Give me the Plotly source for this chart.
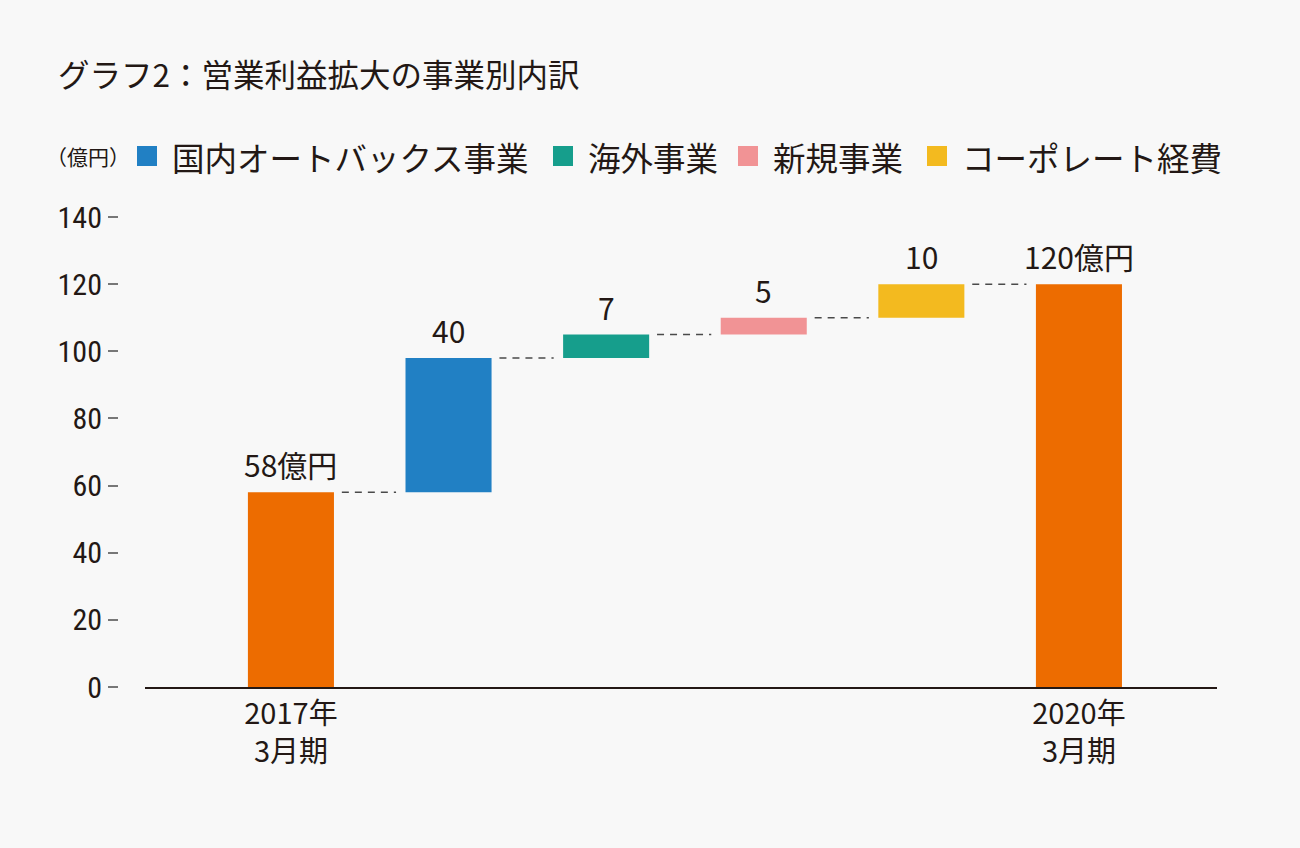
import plotly.graph_objects as go

# ---------------- data ----------------
title_text = "グラフ2：営業利益拡大の事業別内訳"
unit_label = "（億円）"
period_labels = ["2017年<br>3月期", "2020年<br>3月期"]
start_value = 58
end_value = 120
segment_names = ["国内オートバックス事業", "海外事業", "新規事業", "コーポレート経費"]
segment_values = [40, 7, 5, 10]
segment_colors = ["#2180C4", "#169E8C", "#F19395", "#F3BA1F"]
total_color = "#ED6C00"
y_tick_values = [0, 20, 40, 60, 80, 100, 120, 140]

# ---------------- styling ----------------
BG = "#F8F8F8"
INK = "#231815"
CJK = "Noto Sans CJK JP, Noto Sans, sans-serif"
NUM = "Liberation Sans Narrow, Roboto Condensed, DejaVu Sans Condensed, Roboto, sans-serif"
W, H = 1300, 848
BAR_W = 0.546

fig = go.Figure()

n_seg = len(segment_values)
total_positions = [0, n_seg + 1]

# totals
fig.add_trace(go.Bar(
    x=total_positions, y=[start_value, end_value], base=[0, 0],
    width=BAR_W, marker=dict(color=total_color, line=dict(width=0)),
    showlegend=False, hoverinfo="skip"))

# segments
tops = [start_value]
cum = start_value
for i, (name, v, c) in enumerate(zip(segment_names, segment_values, segment_colors)):
    fig.add_trace(go.Bar(
        x=[i + 1], y=[v], base=[cum], name=name, width=BAR_W,
        marker=dict(color=c, line=dict(width=0)),
        showlegend=False, hoverinfo="skip"))
    cum += v
    tops.append(cum)
tops.append(end_value)

labels = [f"{start_value}億円"] + [str(v) for v in segment_values] + [f"{end_value}億円"]

# value labels
for i, (t, lab) in enumerate(zip(tops, labels)):
    fig.add_annotation(x=i, y=t, xref="x", yref="y", text=lab, showarrow=False,
                       yanchor="bottom", xanchor="center", yshift=4,
                       font=dict(family=CJK, size=30, color=INK))

# dashed connectors
for i in range(len(tops) - 1):
    fig.add_shape(type="line", xref="x", yref="y",
                  x0=i + BAR_W / 2 + 0.05, x1=i + 1 - BAR_W / 2 - 0.06,
                  y0=tops[i], y1=tops[i],
                  line=dict(color="#4A4A4A", width=1.5, dash="7px,6px"))

# title
fig.add_annotation(x=56 / W, y=1 - 73 / H, xref="paper", yref="paper",
                   text=title_text, showarrow=False, xanchor="left", yanchor="middle",
                   font=dict(family=CJK, size=31.5, color=INK))

# legend (manual)
legend_y = 1 - 156 / H
fig.add_annotation(x=44 / W, y=legend_y, xref="paper", yref="paper",
                   text=unit_label, showarrow=False, xanchor="left", yanchor="middle",
                   font=dict(family=CJK, size=21, color=INK))
sq_x = [137, 553, 738, 927]
for name, c, sx in zip(segment_names, segment_colors, sq_x):
    fig.add_shape(type="rect", xref="paper", yref="paper",
                  x0=sx / W, x1=(sx + 20) / W,
                  y0=1 - 166 / H, y1=1 - 146 / H,
                  fillcolor=c, line=dict(width=0))
    fig.add_annotation(x=(sx + 33) / W, y=legend_y, xref="paper", yref="paper",
                       text=name, showarrow=False, xanchor="left", yanchor="middle",
                       font=dict(family=CJK, size=32.5, color=INK))

fig.update_layout(
    width=W, height=H, autosize=False,
    margin=dict(l=0, r=0, t=0, b=0, autoexpand=False),
    paper_bgcolor=BG, plot_bgcolor=BG,
    barmode="overlay",
    xaxis=dict(domain=[145 / W, 1217 / W], range=[-0.926, n_seg + 1.876],
               tickvals=total_positions, ticktext=period_labels,
               tickfont=dict(family=CJK, size=29, color=INK),
               showline=True, linecolor=INK, linewidth=2,
               showgrid=False, zeroline=False, ticks="", fixedrange=True),
    yaxis=dict(domain=[(H - 687) / H, (H - 217) / H], range=[0, 140],
               anchor="free", position=118 / W,
               tickvals=y_tick_values,
               tickfont=dict(family=NUM, size=30, color=INK),
               ticks="outside", ticklen=10, tickwidth=1.5, tickcolor="#777777",
               showline=False, showgrid=False, zeroline=False, fixedrange=True),
)

fig.write_html(
    "out.html",
    config={"responsive": False, "displayModeBar": False},
    post_script="document.body.style.margin='0';document.body.style.padding='0';"
                "document.body.style.overflow='hidden';"
                "document.body.style.background='" + BG + "';",
)
